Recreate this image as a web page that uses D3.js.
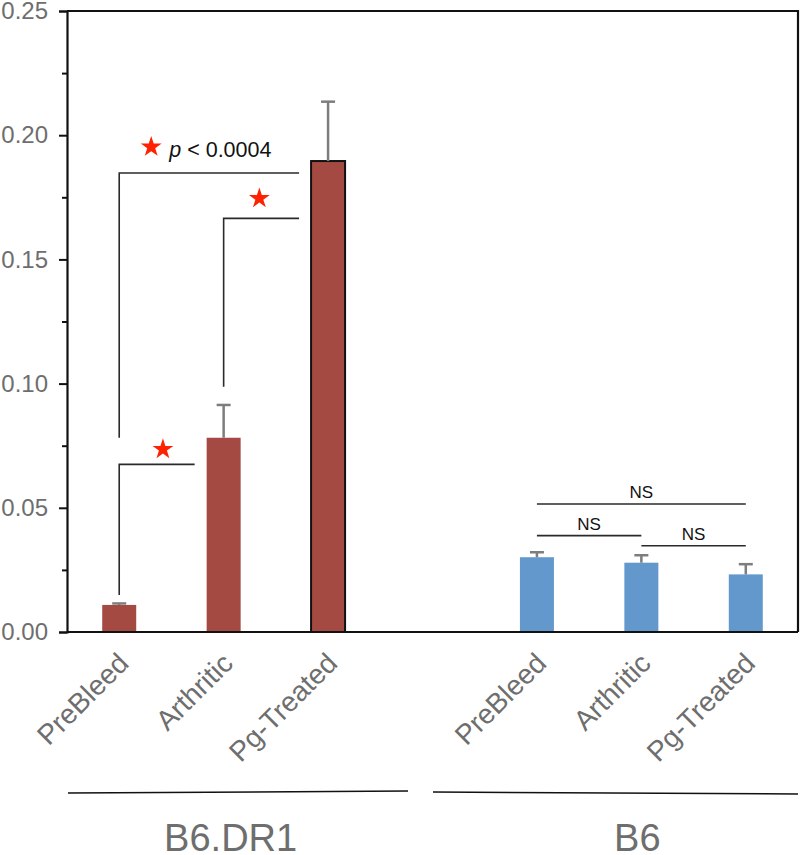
<!DOCTYPE html>
<html>
<head>
<meta charset="utf-8">
<script src="https://cdn.jsdelivr.net/npm/d3@7"></script>
<style>
  html, body { margin: 0; padding: 0; background: #fff; }
  svg { display: block; }
  text { font-family: "Liberation Sans", Arial, Helvetica, sans-serif; }
</style>
</head>
<body>
<script>
// ---------- data ----------
const groups = ["B6.DR1", "B6"];
const conditions = ["PreBleed", "Arthritic", "Pg-Treated"];
const dr1Means = [0.0109, 0.0782, 0.1896];
const dr1Errors = [0.0006, 0.0132, 0.0239];
const b6Means = [0.0301, 0.0279, 0.0232];
const b6Errors = [0.0020, 0.0030, 0.0041];
const yTicks = [0, 0.05, 0.10, 0.15, 0.20, 0.25];
const yMinorTicks = [0.025, 0.075, 0.125, 0.175, 0.225];

// significance brackets (B6.DR1): from category centre, to the left side of the target bar
const sigBrackets = [
  { from: "B6.DR1|PreBleed", to: "B6.DR1|Pg-Treated", top: 0.1848, bottom: 0.0782, label: "p < 0.0004" },
  { from: "B6.DR1|Arthritic", to: "B6.DR1|Pg-Treated", top: 0.1665, bottom: 0.0987, label: "" },
  { from: "B6.DR1|PreBleed", to: "B6.DR1|Arthritic", top: 0.0675, bottom: 0.0149, label: "" }
];
// NS lines (B6)
const nsLines = [
  { from: "B6|PreBleed", to: "B6|Pg-Treated", y: 0.0515 },
  { from: "B6|PreBleed", to: "B6|Arthritic", y: 0.0388 },
  { from: "B6|Arthritic", to: "B6|Pg-Treated", y: 0.0347 }
];

(function () {
// ---------- build ----------
const bars = [];
conditions.forEach((c, i) => bars.push({ key: "B6.DR1|" + c, group: "B6.DR1", cond: c, mean: dr1Means[i], err: dr1Errors[i] }));
conditions.forEach((c, i) => bars.push({ key: "B6|" + c, group: "B6", cond: c, mean: b6Means[i], err: b6Errors[i] }));

const W = 800, H = 855;
const pL = 67, pR = 798, pT = 11, pB = 632;

const svg = d3.select("body").append("svg").attr("width", W).attr("height", H);

const slots = ["B6.DR1|PreBleed", "B6.DR1|Arthritic", "B6.DR1|Pg-Treated", "gap",
               "B6|PreBleed", "B6|Arthritic", "B6|Pg-Treated"];
const x = d3.scaleBand().domain(slots).range([pL, pR]).paddingInner(0).paddingOuter(0);
const cx = k => x(k) + x.bandwidth() / 2;
const barW = 34;

const y = d3.scaleLinear().domain([0, 0.25]).range([pB, pT]);

const colors = { "B6.DR1": "#a54a42", "B6": "#6398cd" };

// bars
svg.append("g").selectAll("rect").data(bars).join("rect")
  .attr("x", d => cx(d.key) - barW / 2)
  .attr("y", d => y(d.mean))
  .attr("width", barW)
  .attr("height", d => y(0) - y(d.mean))
  .attr("fill", d => colors[d.group])
  .attr("stroke", d => d.cond === "Pg-Treated" && d.group === "B6.DR1" ? "#111" : "none")
  .attr("stroke-width", 2);

// error bars (upper only)
const eg = svg.append("g").attr("stroke", "#7d7d7d").attr("stroke-width", 2.5);
eg.selectAll("line.v").data(bars).join("line").attr("class", "v")
  .attr("x1", d => cx(d.key)).attr("x2", d => cx(d.key))
  .attr("y1", d => y(d.mean)).attr("y2", d => y(d.mean + d.err));
eg.selectAll("line.c").data(bars).join("line").attr("class", "c")
  .attr("x1", d => cx(d.key) - 7).attr("x2", d => cx(d.key) + 7)
  .attr("y1", d => y(d.mean + d.err)).attr("y2", d => y(d.mean + d.err));

// frame (top and right)
svg.append("path")
  .attr("d", `M${pL},${pT}H${pR}V${pB}`)
  .attr("fill", "none").attr("stroke", "#111").attr("stroke-width", 2.2);

// y axis
const yAxis = d3.axisLeft(y).tickValues(yTicks).tickFormat(d3.format(".2f")).tickSize(8).tickPadding(11);
const ya = svg.append("g").attr("transform", `translate(${pL},0)`).call(yAxis);
ya.select(".domain").attr("stroke", "#111").attr("stroke-width", 2.2);
ya.selectAll(".tick line").attr("stroke", "#111").attr("stroke-width", 2);
ya.selectAll(".tick text").attr("fill", "#6e6e6e").style("font-size", "24px");
const yMinor = d3.axisLeft(y).tickValues(yMinorTicks).tickSize(5).tickFormat("");
const ym = svg.append("g").attr("transform", `translate(${pL},0)`).call(yMinor);
ym.select(".domain").remove();
ym.selectAll(".tick line").attr("stroke", "#111").attr("stroke-width", 2);

// x axis (bottom line + rotated labels)
const xAxis = d3.axisBottom(x).tickValues(slots.filter(s => s !== "gap")).tickSize(0)
  .tickFormat(k => k.split("|")[1]);
const xa = svg.append("g").attr("transform", `translate(0,${pB})`).call(xAxis);
xa.select(".domain").attr("stroke", "#111").attr("stroke-width", 2.2).attr("d", `M${pL},0H${pR}`);
xa.selectAll(".tick text")
  .attr("fill", "#6e6e6e").style("font-size", "28px")
  .attr("text-anchor", "end")
  .attr("x", 0).attr("y", 0).attr("dy", 0)
  .attr("transform", "translate(11,33) rotate(-45)");

// significance brackets
const sg = svg.append("g").attr("fill", "none").attr("stroke", "#2a2a2a").attr("stroke-width", 1.6);
sigBrackets.forEach(b => {
  const x0 = cx(b.from);
  const x1 = cx(b.to) - barW / 2 - 12;
  sg.append("path").attr("d", `M${x1},${y(b.top)}H${x0}V${y(b.bottom)}`);
});

// stars
const star = d3.symbol().type(d3.symbolStar);
function drawStar(px, py, size) {
  svg.append("path").attr("d", star.size(size)())
    .attr("transform", `translate(${px},${py})`).attr("fill", "#ff2200");
}
const starLift = [26, 20, 15];
sigBrackets.forEach((b, i) => {
  const x0 = cx(b.from);
  const x1 = cx(b.to) - barW / 2 - 12;
  if (b.label) {
    drawStar(x0 + 32, y(b.top) - starLift[i], 135);
    const t = svg.append("text").attr("x", x0 + 50).attr("y", y(b.top) - 16)
      .attr("fill", "#111").style("font-size", "21.5px");
    t.append("tspan").style("font-style", "italic").text(b.label.split(" ")[0]);
    t.append("tspan").text(" " + b.label.split(" ").slice(1).join(" "));
  } else {
    drawStar((x0 + x1) / 2 + (i === 1 ? -2 : 6), y(b.top) - starLift[i], 135);
  }
});

// NS lines
const ng = svg.append("g");
nsLines.forEach(n => {
  ng.append("line").attr("x1", cx(n.from)).attr("x2", cx(n.to))
    .attr("y1", y(n.y)).attr("y2", y(n.y)).attr("stroke", "#2a2a2a").attr("stroke-width", 1.6);
  ng.append("text").attr("x", (cx(n.from) + cx(n.to)) / 2).attr("y", y(n.y) - 6)
    .attr("text-anchor", "middle").attr("fill", "#111").style("font-size", "17px").text("NS");
});

// group lines & labels
const groupInfo = [
  { name: groups[0], x1: pL + 1, x2: 408, y1: 793, y2: 791, lx: cx("B6.DR1|Arthritic") + 7 },
  { name: groups[1], x1: 433, x2: pR, y1: 792, y2: 794, lx: cx("B6|Arthritic") - 4 }
];
groupInfo.forEach(g => {
  svg.append("line").attr("x1", g.x1).attr("x2", g.x2).attr("y1", g.y1).attr("y2", g.y2)
    .attr("stroke", "#111").attr("stroke-width", 1.5);
  svg.append("text").attr("x", g.lx).attr("y", 851).attr("text-anchor", "middle")
    .attr("fill", "#6e6e6e").style("font-size", "38px").text(g.name);
});
})();
</script>
</body>
</html>
